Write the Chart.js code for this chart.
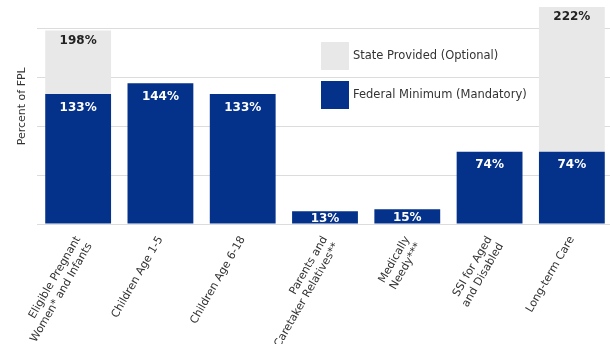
<!DOCTYPE html>
<html>
<head>
<meta charset="utf-8">
<script src="https://cdn.jsdelivr.net/npm/chart.js@4/dist/chart.umd.min.js"></script>
<style>
html,body{margin:0;padding:0;background:#fff;overflow:hidden;}
#outer{width:610px;height:344px;overflow:hidden;position:relative;}
#wrap{width:613px;height:344px;position:relative;}
</style>
</head>
<body>
<div id="outer"><div id="wrap"><canvas id="c"></canvas></div></div>
<script>
const categories = [
  ["Eligible Pregnant", "Women* and Infants"],
  "Children Age 1-5",
  "Children Age 6-18",
  ["Parents and", "Caretaker Relatives**"],
  ["Medically", "Needy***"],
  ["SSI for Aged", "and Disabled"],
  "Long-term Care"
];
const federalMinimum = [133, 144, 133, 13, 15, 74, 74];
const stateTotal = [198, null, null, null, null, null, 222];
const stateProvided = stateTotal.map((t, i) => t === null ? 0 : t - federalMinimum[i]);
const seriesNames = ["Federal Minimum (Mandatory)", "State Provided (Optional)"];
const yTicks = [0, 50, 100, 150, 200];
const yTitle = "Percent of FPL";

const BLUE = '#04318a';
const GRAY = '#e8e8e8';
const FONT = "'DejaVu Sans', Verdana, sans-serif";

const labelPlugin = {
  id: 'barLabels',
  afterDatasetsDraw(chart) {
    const ctx = chart.ctx;
    ctx.save();
    ctx.font = "bold 12px " + FONT;
    ctx.textAlign = 'center';
    ctx.textBaseline = 'middle';
    const fed = chart.getDatasetMeta(0);
    fed.data.forEach((el, i) => {
      const h = el.base - el.y;
      const off = Math.min(13.5, h / 2 + 1.5);
      ctx.fillStyle = '#ffffff';
      ctx.fillText(federalMinimum[i] + '%', el.x, el.y + off);
    });
    const st = chart.getDatasetMeta(1);
    st.data.forEach((el, i) => {
      if (!stateProvided[i]) return;
      ctx.fillStyle = '#222222';
      ctx.fillText(stateTotal[i] + '%', el.x, el.y + 10);
    });
    ctx.restore();
  }
};

const extrasPlugin = {
  id: 'extras',
  afterDraw(chart) {
    const ctx = chart.ctx;
    const ca = chart.chartArea;
    ctx.save();
    const items = [
      {name: seriesNames[1], color: GRAY},
      {name: seriesNames[0], color: BLUE}
    ];
    const x0 = 321, y0 = 42, box = 28, gap = 39;
    ctx.font = "11.5px " + FONT;
    ctx.textBaseline = 'middle';
    ctx.textAlign = 'left';
    items.forEach((it, k) => {
      const y = y0 + k * gap;
      ctx.fillStyle = it.color;
      ctx.fillRect(x0, y, box, box);
      ctx.fillStyle = '#333333';
      ctx.fillText(it.name, x0 + box + 4, y + box / 2);
    });
    ctx.translate(ca.left - 15, ca.top + (ca.bottom - ca.top) * 0.465);
    ctx.rotate(-Math.PI / 2);
    ctx.textAlign = 'center';
    ctx.font = "11px " + FONT;
    ctx.fillStyle = '#333333';
    ctx.fillText(yTitle, 0, 0);
    ctx.restore();
  }
};

new Chart(document.getElementById('c'), {
  type: 'bar',
  data: {
    labels: categories,
    datasets: [
      {label: seriesNames[0], data: federalMinimum, backgroundColor: BLUE, barPercentage: 0.80, categoryPercentage: 1.0},
      {label: seriesNames[1], data: stateProvided, backgroundColor: GRAY, barPercentage: 0.80, categoryPercentage: 1.0}
    ]
  },
  options: {
    responsive: true,
    maintainAspectRatio: false,
    animation: false,
    layout: {padding: {top: 4, right: 0, left: 0, bottom: 0}},
    plugins: {legend: {display: false}, tooltip: {enabled: false}},
    scales: {
      x: {
        stacked: true,
        grid: {display: false},
        border: {display: false},
        ticks: {
          autoSkip: false,
          minRotation: 60,
          maxRotation: 60,
          color: '#333333',
          padding: 2,
          font: {family: FONT, size: 11}
        },
        afterFit(s) { s.height = 120; }
      },
      y: {
        stacked: true,
        min: 0,
        max: 225,
        afterBuildTicks(s) { s.ticks = yTicks.map(v => ({value: v})); },
        ticks: {display: false},
        grid: {color: '#dcdcdc', drawTicks: false, lineWidth: 1},
        border: {display: false},
        title: {display: false},
        afterFit(s) { s.width = 37; }
      }
    }
  },
  plugins: [labelPlugin, extrasPlugin]
});
</script>
</body>
</html>
